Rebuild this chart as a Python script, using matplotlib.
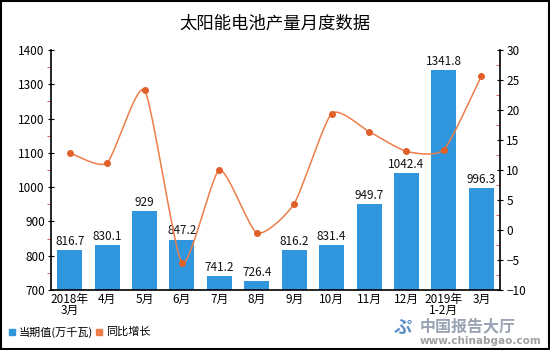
import numpy as np
import matplotlib.pyplot as plt
from matplotlib.ticker import MultipleLocator
from matplotlib.patches import Rectangle

plt.rcParams['font.family'] = ['Noto Sans CJK SC', 'DejaVu Sans']

months = ['2018年\n3月', '4月', '5月', '6月', '7月', '8月', '9月', '10月',
          '11月', '12月', '2019年\n1-2月', '3月']
output = [816.7, 830.1, 929, 847.2, 741.2, 726.4, 816.2, 831.4,
          949.7, 1042.4, 1341.8, 996.3]
output_labels = ['816.7', '830.1', '929', '847.2', '741.2', '726.4', '816.2',
                 '831.4', '949.7', '1042.4', '1341.8', '996.3']
yoy = [12.8, 11.2, 23.3, -5.5, 10.0, -0.5, 4.4, 19.4, 16.4, 13.1, 13.4, 25.6]

bar_color = '#3096de'
line_color = '#ed7d4a'
marker_color = '#e0602a'


def smooth(x, y, n=24, tension=0.4):
    # cardinal (hermite) curve through the points
    x = np.asarray(x, float)
    y = np.asarray(y, float)
    t = np.linspace(0, 1, n, endpoint=False)
    h00 = 2 * t ** 3 - 3 * t ** 2 + 1
    h10 = t ** 3 - 2 * t ** 2 + t
    h01 = -2 * t ** 3 + 3 * t ** 2
    h11 = t ** 3 - t ** 2
    out = []
    for p in (x, y):
        m = np.zeros_like(p)
        m[1:-1] = (1 - tension) * (p[2:] - p[:-2]) / 2
        m[0] = (1 - tension) * (p[1] - p[0])
        m[-1] = (1 - tension) * (p[-1] - p[-2])
        seg = []
        for i in range(len(p) - 1):
            seg.extend(h00 * p[i] + h10 * m[i] + h01 * p[i + 1] + h11 * m[i + 1])
        seg.append(p[-1])
        out.append(np.array(seg))
    return out[0], out[1]


fig = plt.figure(figsize=(5.5, 3.5), dpi=100)
ax = fig.add_axes([51 / 550, 60 / 350, 449 / 550, 240 / 350])
x = np.arange(len(months))

ax.bar(x, output, width=0.67, color=bar_color, zorder=2)
for xi, v, lab in zip(x, output, output_labels):
    ax.text(xi, v + 6, lab, ha='center', va='bottom', fontsize=8.5, color='#111111')

ax.set_ylim(700, 1400)
ax.set_xlim(-0.5, len(months) - 0.5)
ax.yaxis.set_major_locator(MultipleLocator(100))
ax.yaxis.set_minor_locator(MultipleLocator(50))
ax.set_xticks(x)
ax.set_xticklabels(months, fontsize=8.5, linespacing=0.85)
ax.tick_params(axis='x', length=0, pad=2)
ax.tick_params(axis='y', which='major', direction='inout', length=5, labelsize=8.5, pad=2)
ax.tick_params(axis='y', which='minor', direction='out', length=3, color='#e04040')
for s in ['top', 'right']:
    ax.spines[s].set_visible(False)
ax.spines['left'].set_linewidth(1.2)
ax.spines['bottom'].set_linewidth(1.2)

ax2 = ax.twinx()
sx, sy = smooth(x, yoy)
ax2.plot(sx, sy, color=line_color, lw=1.1, zorder=3)
ax2.plot(x, yoy, 'o', color=marker_color, ms=4, zorder=4)
ax2.set_ylim(-10, 30)
ax2.yaxis.set_major_locator(MultipleLocator(5))
ax2.yaxis.set_minor_locator(MultipleLocator(2.5))
ax2.tick_params(axis='y', which='major', direction='inout', length=5, labelsize=8.5, pad=2)
ax2.tick_params(axis='y', which='minor', direction='in', length=3, color='#e04040')
for s in ['top', 'left', 'bottom']:
    ax2.spines[s].set_visible(False)
ax2.spines['right'].set_linewidth(1.2)

fig.text(0.5, 1 - 24 / 350, '太阳能电池产量月度数据', ha='center', va='center', fontsize=12.5)

# legend
fig.patches.append(Rectangle((9 / 550, 1 - 335 / 350), 6 / 550, 6 / 350,
                             transform=fig.transFigure, color=bar_color))
fig.text(19 / 550, 1 - 332 / 350, '当期值(万千瓦)', fontsize=8, va='center')
fig.patches.append(Rectangle((96 / 550, 1 - 335 / 350), 6 / 550, 6 / 350,
                             transform=fig.transFigure, color=line_color))
fig.text(106 / 550, 1 - 332 / 350, '同比增长', fontsize=8, va='center')

# watermark
fig.text(394 / 550, 1 - 327 / 350, 'ぷ', fontsize=13, color='#5b8fc8',
         va='center', fontweight='bold')
fig.text(420 / 550, 1 - 326 / 350, '中国报告大厅', fontsize=11.5, color='#9aa3b3',
         va='center', fontweight='bold')
fig.text(420 / 550, 1 - 341 / 350, 'www.chinabgao.com', fontsize=7.5, color='#a0a0a0',
         va='center', fontweight='bold', family='DejaVu Sans')

fig.patches.append(Rectangle((0.001, 0.002), 0.997, 0.996, transform=fig.transFigure,
                             fill=False, edgecolor='black', lw=1.5))

fig.savefig('out.png', dpi=100)
